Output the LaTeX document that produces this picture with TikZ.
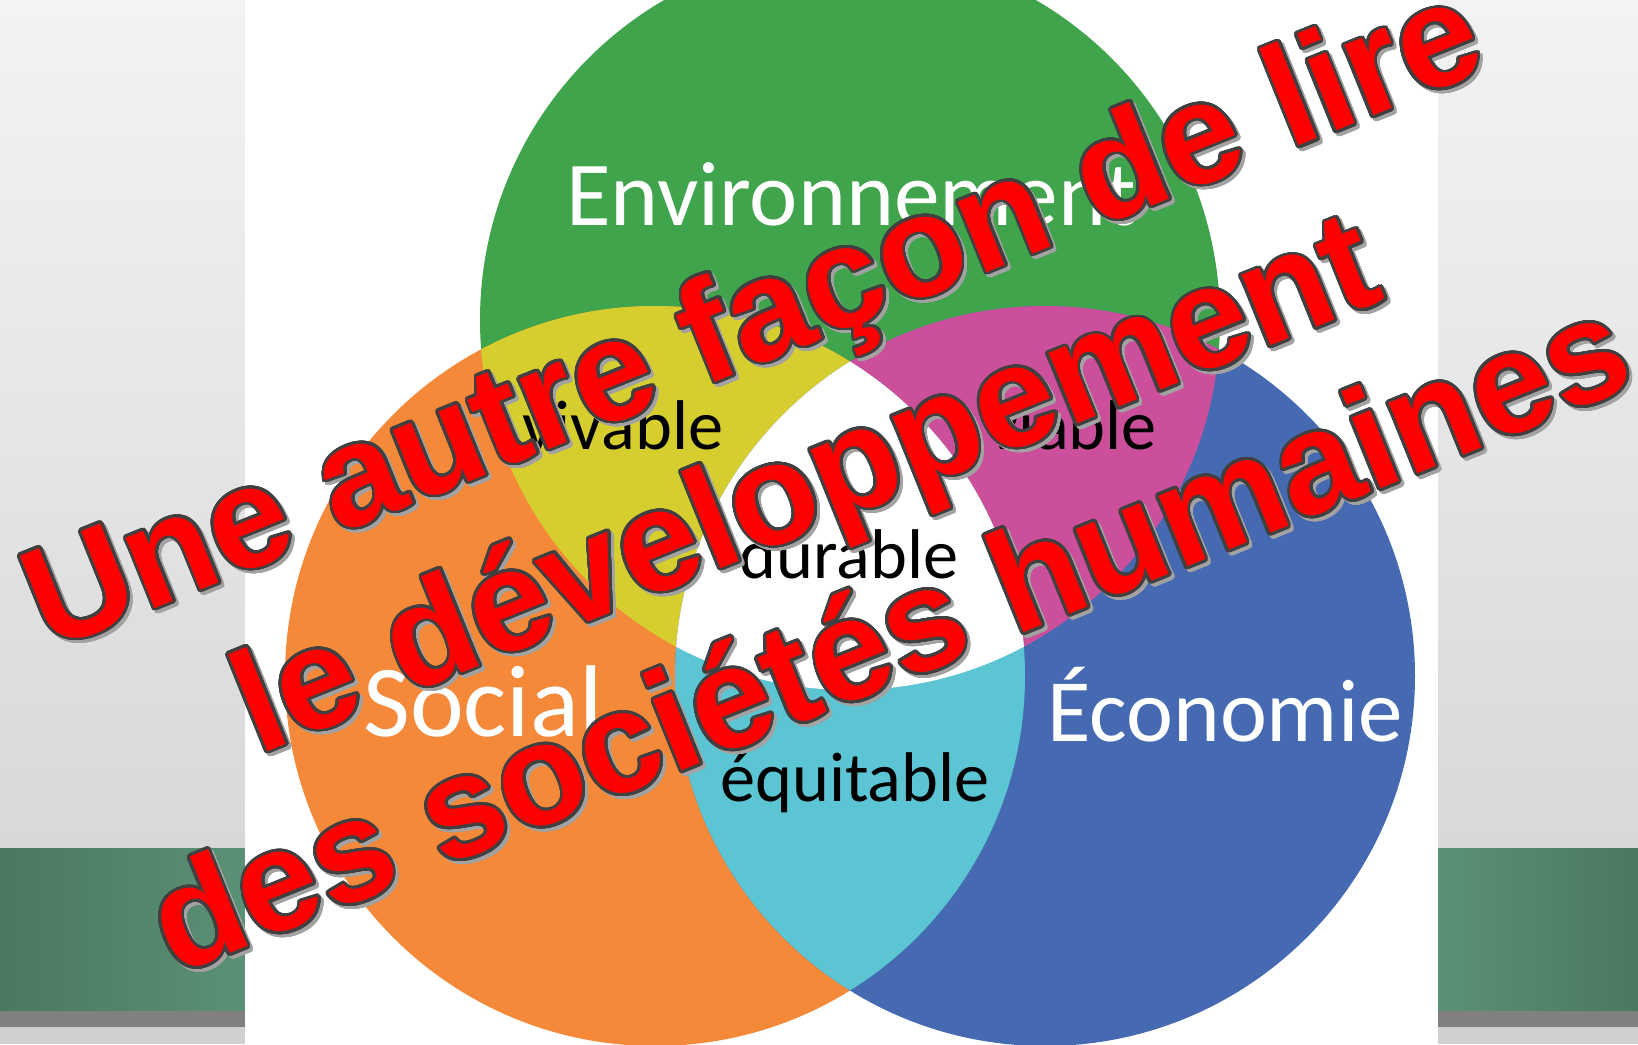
\documentclass[tikz,border=0pt]{standalone}
\usepackage{fontspec}
\setmainfont{Carlito}
\newfontfamily\arialfont{Liberation Sans}
\usepackage{contour}
\contourlength{0.8pt}
\contournumber{32}
\definecolor{cgreen}{HTML}{3FA44C}
\definecolor{corange}{HTML}{F38939}
\definecolor{cblue}{HTML}{456AB2}
\definecolor{cyellow}{HTML}{D6CD2F}
\definecolor{cmagenta}{HTML}{CC4F9B}
\definecolor{ccyan}{HTML}{5BC5D3}
\definecolor{bandDark}{HTML}{4A7861}
\definecolor{bandLight}{HTML}{5A9175}
\definecolor{bgTop}{HTML}{F3F3F3}
\definecolor{bgBot}{HTML}{D8D8D8}
\definecolor{bgLow}{HTML}{D0D0D0}
\definecolor{barGray}{HTML}{808080}
\definecolor{outl}{HTML}{404040}
\definecolor{shadowc}{HTML}{A2A2A2}
\definecolor{ttred}{HTML}{FF0000}
\begin{document}
\begin{tikzpicture}[x=0.01cm,y=-0.01cm,
  whitelab/.style={text=white,font=\fontsize{26}{30}\selectfont,anchor=base,inner sep=0pt},
  blacklab/.style={text=black,font=\fontsize{20}{24}\selectfont,anchor=base,inner sep=0pt},
  redline/.style={anchor=base,inner sep=0pt,rotate=22,text=ttred,
    font=\arialfont\bfseries\fontsize{41}{49}\selectfont},
  shadowline/.style={redline,text=shadowc}]
\useasboundingbox (0,0) rectangle (1638,1044);
% background
\fill[top color=bgTop,bottom color=bgBot] (0,0) rectangle (1638,848);
\fill[left color=bandDark,right color=bandLight] (0,848) rectangle (245,1011);
\fill[left color=bandLight,right color=bandDark] (1438,848) rectangle (1638,1011);
\fill[barGray] (0,1011) rectangle (1638,1027);
\fill[bgLow] (0,1027) rectangle (1638,1044);
\fill[white] (245,0) rectangle (1438,1044);
% venn
\coordinate (G) at (850,320);
\coordinate (O) at (655,676);
\coordinate (B) at (1045,676);
\fill[cgreen] (G) circle[radius=370];
\fill[corange] (O) circle[radius=370];
\fill[cblue] (B) circle[radius=370];
\begin{scope}
  \clip (G) circle[radius=370];
  \fill[cyellow] (O) circle[radius=370];
  \fill[cmagenta] (B) circle[radius=370];
\end{scope}
\begin{scope}
  \clip (O) circle[radius=370];
  \fill[ccyan] (B) circle[radius=370];
  \clip (B) circle[radius=370];
  \fill[white] (G) circle[radius=370];
\end{scope}
% labels
\node[whitelab] (env) at (851,225) {Environnement};
\node[blacklab] (viv) at (623,449) {vivable};
\node[blacklab] (via) at (1072,449) {viable};
\node[blacklab] (dur) at (849,578) {durable};
\node[whitelab,font=\fontsize{29}{34}\selectfont] (soc) at (483,736) {Social};
\node[whitelab,font=\fontsize{25.3}{30}\selectfont] (eco) at (1225,741) {Économie};
\node[blacklab] (equ) at (855,801) {équitable};
% red overlay title
\node[shadowline] (s1) at (773,363) {\contour{shadowc}{Une autre façon de lire}};
\node[shadowline] (s2) at (826,530) {\contour{shadowc}{le développement}};
\node[shadowline] (s3) at (910,683) {\contour{shadowc}{des sociétés humaines}};
\node[redline] (l1) at (770,360) {\contour{outl}{Une autre façon de lire}};
\node[redline] (l2) at (823,527) {\contour{outl}{le développement}};
\node[redline] (l3) at (907,680) {\contour{outl}{des sociétés humaines}};
\end{tikzpicture}
\end{document}
